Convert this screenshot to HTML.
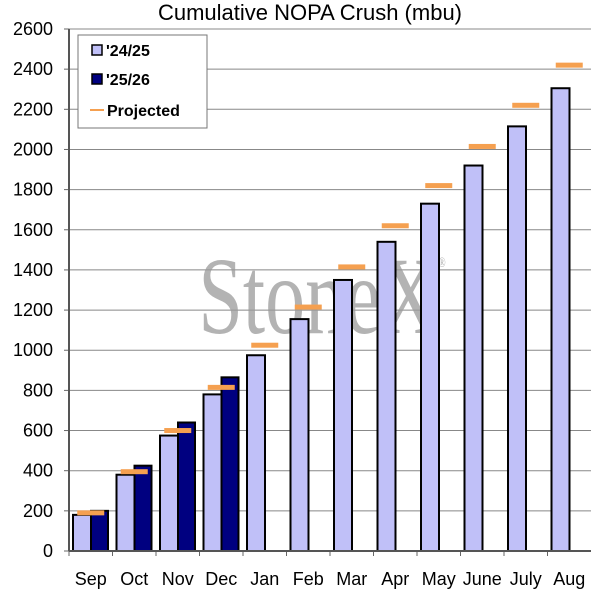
<!DOCTYPE html>
<html><head><meta charset="utf-8"><style>
body{margin:0;background:#fff;}
svg{display:block;font-family:"Liberation Sans",Arial,sans-serif;}
</style></head><body>
<svg id="chart" width="600" height="600" viewBox="0 0 600 600">
<text x="310" y="20" text-anchor="middle" font-size="22">Cumulative NOPA Crush (mbu)</text>
<g id="grid"></g>
<g transform="translate(322,333) scale(0.8,1.1)">
<text x="0" y="0" text-anchor="middle" font-family="Liberation Serif,serif" font-size="100" fill="#9a9a9a" opacity="0.75">StoneX<tspan font-size="12" dy="-60">®</tspan></text>
</g>
<g id="bars"></g>
<g id="axes"></g>
<g>
<rect x="78" y="35" width="129" height="93" fill="#fff" stroke="#777" stroke-width="1"/>
<rect x="92" y="45" width="10" height="10" fill="#c0c0f8" stroke="#000" stroke-width="1.5"/>
<text x="106" y="56" font-size="16" font-weight="bold">'24/25</text>
<rect x="92" y="74" width="10" height="10" fill="#000080" stroke="#000" stroke-width="1.5"/>
<text x="106" y="85" font-size="16" font-weight="bold">'25/26</text>
<line x1="90" y1="110" x2="104" y2="110" stroke="#f5a050" stroke-width="2"/>
<text x="107" y="116" font-size="16" font-weight="bold">Projected</text>
</g>
</svg>
<script>
const categories=["Sep","Oct","Nov","Dec","Jan","Feb","Mar","Apr","May","June","July","Aug"];
const series2425=[180,380,575,780,975,1155,1350,1540,1730,1920,2115,2305];
const series2526=[200,425,640,865];
const projected=[190,395,600,815,1025,1215,1415,1620,1820,2015,2220,2420];
const yTicks=[0,200,400,600,800,1000,1200,1400,1600,1800,2000,2200,2400,2600];
const NS="http://www.w3.org/2000/svg";
const x0=69,x1=591,yB=551,yT=29,yMax=2600;
const bw=(x1-x0)/categories.length;
const y=v=>yB-(v/yMax)*(yB-yT);
const xc=i=>x0+i*bw;
function mk(tag,attrs,parent){const e=document.createElementNS(NS,tag);for(const k in attrs)e.setAttribute(k,attrs[k]);parent.appendChild(e);return e;}
const grid=document.getElementById('grid'),bars=document.getElementById('bars'),axes=document.getElementById('axes');
yTicks.forEach(t=>{
 if(t>0){const l=mk('line',{x1:x0,x2:x1,y1:y(t),y2:y(t),stroke:'#888','stroke-width':1},grid);
 
 }
 const tk=mk('line',{x1:x0-5,x2:x0,y1:y(t),y2:y(t),stroke:'#666'},axes);
 
 
 const tx=mk('text',{x:53,y:y(t)+6,'text-anchor':'end','font-size':18},axes);tx.textContent=t;
 
 
});
categories.forEach((c,i)=>{
 const g=xc(i);
 const r=mk('rect',{x:g+4,y:y(series2425[i]),width:18,height:yB-y(series2425[i]),fill:'#c0c0f8',stroke:'#000','stroke-width':2},bars);
 
 
 if(i<series2526.length){
  const d=mk('rect',{x:g+22,y:y(series2526[i]),width:17,height:yB-y(series2526[i]),fill:'#000080',stroke:'#000','stroke-width':2},bars);
  
  
 }
 const p=mk('rect',{x:g+bw/2-13.5,y:y(projected[i])-2.5,width:27,height:5,fill:'#f5a050'},bars);
 
 
 const tk=mk('line',{x1:g,x2:g,y1:yB,y2:yB+5,stroke:'#666'},axes);
 
 
 const tx=mk('text',{x:g+bw/2,y:585,'text-anchor':'middle','font-size':18},axes);tx.textContent=c;
 
 
});
const ax=mk('line',{x1:x0,x2:x0,y1:yT,y2:yB,stroke:'#555','stroke-width':2},axes);


const bx=mk('line',{x1:x0,x2:x1,y1:yB,y2:yB,stroke:'#555','stroke-width':2},axes);


</script>
</body></html>
